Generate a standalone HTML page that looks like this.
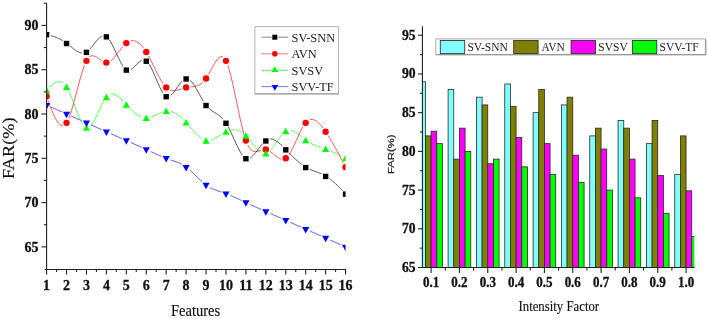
<!DOCTYPE html>
<html><head><meta charset="utf-8"><style>
html,body{margin:0;padding:0;background:#fff;}
body{width:708px;height:319px;overflow:hidden;position:relative;font-family:"Liberation Serif",serif;}
</style></head><body>
<svg width="708" height="319" viewBox="0 0 708 319" style="position:absolute;left:0;top:0;will-change:transform">
<defs>
<clipPath id="lclip"><rect x="46.60" y="0" width="298.95" height="270"/></clipPath>
<mask id="m_black" maskUnits="userSpaceOnUse" x="0" y="0" width="708" height="319"><rect x="0" y="0" width="708" height="319" fill="#fff"/>
<circle cx="46.60" cy="34.26" r="4.6" fill="#000"/>
<circle cx="66.53" cy="43.12" r="4.6" fill="#000"/>
<circle cx="86.46" cy="51.98" r="4.6" fill="#000"/>
<circle cx="106.39" cy="36.47" r="4.6" fill="#000"/>
<circle cx="126.32" cy="69.70" r="4.6" fill="#000"/>
<circle cx="146.25" cy="60.84" r="4.6" fill="#000"/>
<circle cx="166.18" cy="96.28" r="4.6" fill="#000"/>
<circle cx="186.11" cy="78.56" r="4.6" fill="#000"/>
<circle cx="206.04" cy="105.14" r="4.6" fill="#000"/>
<circle cx="225.97" cy="122.86" r="4.6" fill="#000"/>
<circle cx="245.90" cy="158.30" r="4.6" fill="#000"/>
<circle cx="265.83" cy="140.58" r="4.6" fill="#000"/>
<circle cx="285.76" cy="149.44" r="4.6" fill="#000"/>
<circle cx="305.69" cy="167.16" r="4.6" fill="#000"/>
<circle cx="325.62" cy="176.02" r="4.6" fill="#000"/>
<circle cx="345.55" cy="193.74" r="4.6" fill="#000"/>
</mask>
<mask id="m_red" maskUnits="userSpaceOnUse" x="0" y="0" width="708" height="319"><rect x="0" y="0" width="708" height="319" fill="#fff"/>
<circle cx="46.60" cy="96.28" r="4.8" fill="#000"/>
<circle cx="66.53" cy="122.86" r="4.8" fill="#000"/>
<circle cx="86.46" cy="60.84" r="4.8" fill="#000"/>
<circle cx="106.39" cy="62.61" r="4.8" fill="#000"/>
<circle cx="126.32" cy="43.12" r="4.8" fill="#000"/>
<circle cx="146.25" cy="51.98" r="4.8" fill="#000"/>
<circle cx="166.18" cy="87.42" r="4.8" fill="#000"/>
<circle cx="186.11" cy="87.42" r="4.8" fill="#000"/>
<circle cx="206.04" cy="78.56" r="4.8" fill="#000"/>
<circle cx="225.97" cy="60.84" r="4.8" fill="#000"/>
<circle cx="245.90" cy="140.58" r="4.8" fill="#000"/>
<circle cx="265.83" cy="149.44" r="4.8" fill="#000"/>
<circle cx="285.76" cy="158.30" r="4.8" fill="#000"/>
<circle cx="305.69" cy="122.86" r="4.8" fill="#000"/>
<circle cx="325.62" cy="131.72" r="4.8" fill="#000"/>
<circle cx="345.55" cy="167.16" r="4.8" fill="#000"/>
</mask>
<mask id="m_green" maskUnits="userSpaceOnUse" x="0" y="0" width="708" height="319"><rect x="0" y="0" width="708" height="319" fill="#fff"/>
<circle cx="46.60" cy="90.52" r="5.0" fill="#000"/>
<circle cx="66.53" cy="86.98" r="5.0" fill="#000"/>
<circle cx="86.46" cy="127.73" r="5.0" fill="#000"/>
<circle cx="106.39" cy="97.17" r="5.0" fill="#000"/>
<circle cx="126.32" cy="104.70" r="5.0" fill="#000"/>
<circle cx="146.25" cy="117.99" r="5.0" fill="#000"/>
<circle cx="166.18" cy="110.90" r="5.0" fill="#000"/>
<circle cx="186.11" cy="122.42" r="5.0" fill="#000"/>
<circle cx="206.04" cy="140.58" r="5.0" fill="#000"/>
<circle cx="225.97" cy="131.72" r="5.0" fill="#000"/>
<circle cx="245.90" cy="135.71" r="5.0" fill="#000"/>
<circle cx="265.83" cy="153.43" r="5.0" fill="#000"/>
<circle cx="285.76" cy="131.28" r="5.0" fill="#000"/>
<circle cx="305.69" cy="140.14" r="5.0" fill="#000"/>
<circle cx="325.62" cy="149.00" r="5.0" fill="#000"/>
<circle cx="345.55" cy="158.30" r="5.0" fill="#000"/>
</mask>
<mask id="m_blue" maskUnits="userSpaceOnUse" x="0" y="0" width="708" height="319"><rect x="0" y="0" width="708" height="319" fill="#fff"/>
<circle cx="46.60" cy="105.14" r="5.0" fill="#000"/>
<circle cx="66.53" cy="114.00" r="5.0" fill="#000"/>
<circle cx="86.46" cy="122.86" r="5.0" fill="#000"/>
<circle cx="106.39" cy="131.72" r="5.0" fill="#000"/>
<circle cx="126.32" cy="140.58" r="5.0" fill="#000"/>
<circle cx="146.25" cy="149.44" r="5.0" fill="#000"/>
<circle cx="166.18" cy="158.30" r="5.0" fill="#000"/>
<circle cx="186.11" cy="167.16" r="5.0" fill="#000"/>
<circle cx="206.04" cy="184.88" r="5.0" fill="#000"/>
<circle cx="225.97" cy="193.74" r="5.0" fill="#000"/>
<circle cx="245.90" cy="202.60" r="5.0" fill="#000"/>
<circle cx="265.83" cy="211.46" r="5.0" fill="#000"/>
<circle cx="285.76" cy="220.32" r="5.0" fill="#000"/>
<circle cx="305.69" cy="229.18" r="5.0" fill="#000"/>
<circle cx="325.62" cy="238.04" r="5.0" fill="#000"/>
<circle cx="345.55" cy="246.90" r="5.0" fill="#000"/>
</mask>
<clipPath id="rclip"><rect x="422.4" y="0" width="272.00" height="267"/></clipPath>
</defs>
<g clip-path="url(#lclip)">
<path d="M46.60,105.14 L48.26,105.88 L49.92,106.62 L51.58,107.35 L53.24,108.09 L54.90,108.83 L56.56,109.57 L58.23,110.31 L59.89,111.05 L61.55,111.78 L63.21,112.52 L64.87,113.26 L66.53,114.00 L68.19,114.74 L69.85,115.48 L71.51,116.22 L73.17,116.95 L74.83,117.69 L76.50,118.43 L78.16,119.17 L79.82,119.91 L81.48,120.65 L83.14,121.38 L84.80,122.12 L86.46,122.86 L88.12,123.60 L89.78,124.34 L91.44,125.07 L93.10,125.81 L94.76,126.55 L96.43,127.29 L98.09,128.02 L99.75,128.76 L101.41,129.50 L103.07,130.24 L104.73,130.98 L106.39,131.72 L108.05,132.46 L109.71,133.20 L111.37,133.94 L113.03,134.69 L114.69,135.43 L116.35,136.17 L118.02,136.91 L119.68,137.64 L121.34,138.38 L123.00,139.12 L124.66,139.85 L126.32,140.58 L127.98,141.31 L129.64,142.03 L131.30,142.76 L132.96,143.49 L134.62,144.22 L136.28,144.95 L137.95,145.68 L139.61,146.42 L141.27,147.16 L142.93,147.91 L144.59,148.67 L146.25,149.44 L147.91,150.22 L149.57,151.00 L151.23,151.78 L152.89,152.56 L154.55,153.34 L156.22,154.11 L157.88,154.86 L159.54,155.60 L161.20,156.32 L162.86,157.01 L164.52,157.67 L166.18,158.30 L167.84,158.90 L169.50,159.47 L171.16,160.04 L172.82,160.61 L174.48,161.21 L176.14,161.84 L177.81,162.52 L179.47,163.26 L181.13,164.08 L182.79,165.00 L184.45,166.02 L186.11,167.16 L187.77,168.43 L189.43,169.81 L191.09,171.29 L192.75,172.83 L194.41,174.41 L196.07,176.02 L197.74,177.63 L199.40,179.21 L201.06,180.75 L202.72,182.23 L204.38,183.61 L206.04,184.88 L207.70,186.02 L209.36,187.04 L211.02,187.96 L212.68,188.78 L214.34,189.52 L216.00,190.20 L217.67,190.83 L219.33,191.43 L220.99,192.00 L222.65,192.57 L224.31,193.14 L225.97,193.74 L227.63,194.37 L229.29,195.03 L230.95,195.72 L232.61,196.44 L234.27,197.18 L235.94,197.93 L237.60,198.70 L239.26,199.48 L240.92,200.26 L242.58,201.04 L244.24,201.82 L245.90,202.60 L247.56,203.37 L249.22,204.13 L250.88,204.88 L252.54,205.62 L254.20,206.36 L255.86,207.09 L257.53,207.82 L259.19,208.55 L260.85,209.28 L262.51,210.01 L264.17,210.73 L265.83,211.46 L267.49,212.19 L269.15,212.92 L270.81,213.66 L272.47,214.40 L274.13,215.13 L275.80,215.87 L277.46,216.61 L279.12,217.35 L280.78,218.10 L282.44,218.84 L284.10,219.58 L285.76,220.32 L287.42,221.06 L289.08,221.80 L290.74,222.54 L292.40,223.28 L294.06,224.02 L295.73,224.75 L297.39,225.49 L299.05,226.23 L300.71,226.97 L302.37,227.70 L304.03,228.44 L305.69,229.18 L307.35,229.92 L309.01,230.66 L310.67,231.39 L312.33,232.13 L313.99,232.87 L315.66,233.61 L317.32,234.35 L318.98,235.09 L320.64,235.82 L322.30,236.56 L323.96,237.30 L325.62,238.04 L327.28,238.78 L328.94,239.52 L330.60,240.26 L332.26,240.99 L333.92,241.73 L335.59,242.47 L337.25,243.21 L338.91,243.95 L340.57,244.69 L342.23,245.42 L343.89,246.16 L345.55,246.90" fill="none" stroke="#00f" stroke-width="0.65" mask="url(#m_blue)"/>
<path d="M46.60,90.52 L48.26,88.76 L49.92,87.07 L51.58,85.50 L53.24,84.11 L54.90,82.96 L56.56,82.13 L58.23,81.66 L59.89,81.62 L61.55,82.07 L63.21,83.07 L64.87,84.69 L66.53,86.98 L68.19,89.97 L69.85,93.54 L71.51,97.55 L73.17,101.83 L74.83,106.23 L76.50,110.61 L78.16,114.81 L79.82,118.67 L81.48,122.05 L83.14,124.79 L84.80,126.73 L86.46,127.73 L88.12,127.69 L89.78,126.69 L91.44,124.89 L93.10,122.45 L94.76,119.49 L96.43,116.18 L98.09,112.67 L99.75,109.09 L101.41,105.61 L103.07,102.36 L104.73,99.49 L106.39,97.17 L108.05,95.49 L109.71,94.43 L111.37,93.93 L113.03,93.93 L114.69,94.38 L116.35,95.20 L118.02,96.34 L119.68,97.74 L121.34,99.33 L123.00,101.07 L124.66,102.87 L126.32,104.70 L127.98,106.48 L129.64,108.20 L131.30,109.84 L132.96,111.38 L134.62,112.80 L136.28,114.09 L137.95,115.22 L139.61,116.19 L141.27,116.97 L142.93,117.54 L144.59,117.88 L146.25,117.99 L147.91,117.84 L149.57,117.48 L151.23,116.94 L152.89,116.26 L154.55,115.49 L156.22,114.67 L157.88,113.83 L159.54,113.02 L161.20,112.28 L162.86,111.66 L164.52,111.18 L166.18,110.90 L167.84,110.84 L169.50,111.01 L171.16,111.39 L172.82,111.97 L174.48,112.73 L176.14,113.68 L177.81,114.79 L179.47,116.05 L181.13,117.46 L182.79,118.99 L184.45,120.65 L186.11,122.42 L187.77,124.28 L189.43,126.19 L191.09,128.13 L192.75,130.06 L194.41,131.94 L196.07,133.73 L197.74,135.40 L199.40,136.90 L201.06,138.21 L202.72,139.28 L204.38,140.09 L206.04,140.58 L207.70,140.74 L209.36,140.60 L211.02,140.20 L212.68,139.58 L214.34,138.78 L216.00,137.85 L217.67,136.82 L219.33,135.74 L220.99,134.64 L222.65,133.58 L224.31,132.59 L225.97,131.72 L227.63,131.00 L229.29,130.44 L230.95,130.05 L232.61,129.84 L234.27,129.83 L235.94,130.01 L237.60,130.39 L239.26,131.00 L240.92,131.82 L242.58,132.87 L244.24,134.17 L245.90,135.71 L247.56,137.49 L249.22,139.46 L250.88,141.54 L252.54,143.65 L254.20,145.74 L255.86,147.72 L257.53,149.53 L259.19,151.09 L260.85,152.33 L262.51,153.19 L264.17,153.57 L265.83,153.43 L267.49,152.70 L269.15,151.46 L270.81,149.80 L272.47,147.82 L274.13,145.59 L275.80,143.23 L277.46,140.82 L279.12,138.45 L280.78,136.22 L282.44,134.22 L284.10,132.54 L285.76,131.28 L287.42,130.50 L289.08,130.18 L290.74,130.25 L292.40,130.68 L294.06,131.40 L295.73,132.36 L297.39,133.50 L299.05,134.78 L300.71,136.14 L302.37,137.52 L304.03,138.87 L305.69,140.14 L307.35,141.28 L309.01,142.30 L310.67,143.21 L312.33,144.03 L313.99,144.77 L315.66,145.45 L317.32,146.08 L318.98,146.67 L320.64,147.25 L322.30,147.82 L323.96,148.39 L325.62,149.00 L327.28,149.64 L328.94,150.31 L330.60,151.02 L332.26,151.75 L333.92,152.51 L335.59,153.30 L337.25,154.10 L338.91,154.92 L340.57,155.76 L342.23,156.60 L343.89,157.45 L345.55,158.30" fill="none" stroke="#0f0" stroke-width="0.65" mask="url(#m_green)"/>
<path d="M46.60,96.28 L48.26,100.88 L49.92,105.38 L51.58,109.68 L53.24,113.68 L54.90,117.28 L56.56,120.38 L58.23,122.88 L59.89,124.68 L61.55,125.67 L63.21,125.77 L64.87,124.87 L66.53,122.86 L68.19,119.70 L69.85,115.54 L71.51,110.56 L73.17,104.95 L74.83,98.92 L76.50,92.65 L78.16,86.33 L79.82,80.16 L81.48,74.34 L83.14,69.05 L84.80,64.48 L86.46,60.84 L88.12,58.25 L89.78,56.64 L91.44,55.85 L93.10,55.75 L94.76,56.19 L96.43,57.03 L98.09,58.14 L99.75,59.37 L101.41,60.57 L103.07,61.60 L104.73,62.33 L106.39,62.61 L108.05,62.34 L109.71,61.55 L111.37,60.33 L113.03,58.76 L114.69,56.92 L116.35,54.89 L118.02,52.74 L119.68,50.56 L121.34,48.43 L123.00,46.43 L124.66,44.63 L126.32,43.12 L127.98,41.96 L129.64,41.17 L131.30,40.73 L132.96,40.64 L134.62,40.90 L136.28,41.50 L137.95,42.43 L139.61,43.70 L141.27,45.29 L142.93,47.21 L144.59,49.44 L146.25,51.98 L147.91,54.82 L149.57,57.90 L151.23,61.15 L152.89,64.51 L154.55,67.92 L156.22,71.30 L157.88,74.59 L159.54,77.73 L161.20,80.65 L162.86,83.28 L164.52,85.56 L166.18,87.42 L167.84,88.82 L169.50,89.79 L171.16,90.38 L172.82,90.64 L174.48,90.64 L176.14,90.41 L177.81,90.02 L179.47,89.51 L181.13,88.95 L182.79,88.38 L184.45,87.85 L186.11,87.42 L187.77,87.13 L189.43,86.93 L191.09,86.77 L192.75,86.61 L194.41,86.39 L196.07,86.05 L197.74,85.54 L199.40,84.80 L201.06,83.79 L202.72,82.45 L204.38,80.72 L206.04,78.56 L207.70,75.94 L209.36,72.99 L211.02,69.88 L212.68,66.75 L214.34,63.78 L216.00,61.13 L217.67,58.95 L219.33,57.41 L220.99,56.67 L222.65,56.88 L224.31,58.22 L225.97,60.84 L227.63,64.84 L229.29,70.06 L230.95,76.28 L232.61,83.28 L234.27,90.83 L235.94,98.71 L237.60,106.71 L239.26,114.60 L240.92,122.15 L242.58,129.14 L244.24,135.36 L245.90,140.58 L247.56,144.64 L249.22,147.62 L250.88,149.66 L252.54,150.91 L254.20,151.51 L255.86,151.60 L257.53,151.32 L259.19,150.82 L260.85,150.24 L262.51,149.72 L264.17,149.41 L265.83,149.44 L267.49,149.92 L269.15,150.79 L270.81,151.95 L272.47,153.29 L274.13,154.70 L275.80,156.10 L277.46,157.37 L279.12,158.42 L280.78,159.14 L282.44,159.43 L284.10,159.18 L285.76,158.30 L287.42,156.72 L289.08,154.51 L290.74,151.79 L292.40,148.67 L294.06,145.26 L295.73,141.68 L297.39,138.04 L299.05,134.45 L300.71,131.03 L302.37,127.88 L304.03,125.12 L305.69,122.86 L307.35,121.19 L309.01,120.10 L310.67,119.54 L312.33,119.47 L313.99,119.85 L315.66,120.65 L317.32,121.81 L318.98,123.30 L320.64,125.08 L322.30,127.10 L323.96,129.33 L325.62,131.72 L327.28,134.24 L328.94,136.87 L330.60,139.61 L332.26,142.44 L333.92,145.35 L335.59,148.33 L337.25,151.38 L338.91,154.47 L340.57,157.61 L342.23,160.77 L343.89,163.96 L345.55,167.16" fill="none" stroke="#f00" stroke-width="0.65" mask="url(#m_red)"/>
<path d="M46.60,34.26 L48.26,34.75 L49.92,35.25 L51.58,35.77 L53.24,36.33 L54.90,36.92 L56.56,37.57 L58.23,38.28 L59.89,39.06 L61.55,39.92 L63.21,40.88 L64.87,41.94 L66.53,43.12 L68.19,44.41 L69.85,45.77 L71.51,47.16 L73.17,48.51 L74.83,49.78 L76.50,50.91 L78.16,51.86 L79.82,52.57 L81.48,52.99 L83.14,53.06 L84.80,52.75 L86.46,51.98 L88.12,50.74 L89.78,49.12 L91.44,47.23 L93.10,45.17 L94.76,43.07 L96.43,41.03 L98.09,39.17 L99.75,37.60 L101.41,36.43 L103.07,35.78 L104.73,35.76 L106.39,36.47 L108.05,38.00 L109.71,40.24 L111.37,43.04 L113.03,46.25 L114.69,49.75 L116.35,53.37 L118.02,56.97 L119.68,60.42 L121.34,63.56 L123.00,66.25 L124.66,68.34 L126.32,69.70 L127.98,70.22 L129.64,70.01 L131.30,69.22 L132.96,67.99 L134.62,66.49 L136.28,64.86 L137.95,63.25 L139.61,61.82 L141.27,60.71 L142.93,60.07 L144.59,60.07 L146.25,60.84 L147.91,62.49 L149.57,64.91 L151.23,67.94 L152.89,71.42 L154.55,75.20 L156.22,79.10 L157.88,82.97 L159.54,86.65 L161.20,89.98 L162.86,92.80 L164.52,94.96 L166.18,96.28 L167.84,96.67 L169.50,96.21 L171.16,95.07 L172.82,93.39 L174.48,91.32 L176.14,89.01 L177.81,86.61 L179.47,84.27 L181.13,82.15 L182.79,80.39 L184.45,79.14 L186.11,78.56 L187.77,78.75 L189.43,79.64 L191.09,81.15 L192.75,83.16 L194.41,85.57 L196.07,88.29 L197.74,91.20 L199.40,94.21 L201.06,97.21 L202.72,100.10 L204.38,102.78 L206.04,105.14 L207.70,107.12 L209.36,108.75 L211.02,110.12 L212.68,111.29 L214.34,112.35 L216.00,113.37 L217.67,114.42 L219.33,115.59 L220.99,116.94 L222.65,118.55 L224.31,120.50 L225.97,122.86 L227.63,125.68 L229.29,128.88 L230.95,132.35 L232.61,135.99 L234.27,139.69 L235.94,143.34 L237.60,146.84 L239.26,150.08 L240.92,152.95 L242.58,155.35 L244.24,157.17 L245.90,158.30 L247.56,158.67 L249.22,158.36 L250.88,157.46 L252.54,156.08 L254.20,154.33 L255.86,152.32 L257.53,150.15 L259.19,147.92 L260.85,145.74 L262.51,143.72 L264.17,141.97 L265.83,140.58 L267.49,139.64 L269.15,139.14 L270.81,139.03 L272.47,139.28 L274.13,139.85 L275.80,140.70 L277.46,141.78 L279.12,143.07 L280.78,144.52 L282.44,146.09 L284.10,147.74 L285.76,149.44 L287.42,151.15 L289.08,152.85 L290.74,154.53 L292.40,156.19 L294.06,157.81 L295.73,159.38 L297.39,160.89 L299.05,162.32 L300.71,163.68 L302.37,164.95 L304.03,166.11 L305.69,167.16 L307.35,168.09 L309.01,168.92 L310.67,169.66 L312.33,170.34 L313.99,170.98 L315.66,171.60 L317.32,172.22 L318.98,172.85 L320.64,173.53 L322.30,174.27 L323.96,175.10 L325.62,176.02 L327.28,177.06 L328.94,178.22 L330.60,179.48 L332.26,180.83 L333.92,182.26 L335.59,183.77 L337.25,185.34 L338.91,186.96 L340.57,188.62 L342.23,190.31 L343.89,192.02 L345.55,193.74" fill="none" stroke="#000" stroke-width="0.65" mask="url(#m_black)"/>
<rect x="43.90" y="31.96" width="5.4" height="5.4" fill="#000"/>
<rect x="63.83" y="40.82" width="5.4" height="5.4" fill="#000"/>
<rect x="83.76" y="49.68" width="5.4" height="5.4" fill="#000"/>
<rect x="103.69" y="34.17" width="5.4" height="5.4" fill="#000"/>
<rect x="123.62" y="67.40" width="5.4" height="5.4" fill="#000"/>
<rect x="143.55" y="58.54" width="5.4" height="5.4" fill="#000"/>
<rect x="163.48" y="93.98" width="5.4" height="5.4" fill="#000"/>
<rect x="183.41" y="76.26" width="5.4" height="5.4" fill="#000"/>
<rect x="203.34" y="102.84" width="5.4" height="5.4" fill="#000"/>
<rect x="223.27" y="120.56" width="5.4" height="5.4" fill="#000"/>
<rect x="243.20" y="156.00" width="5.4" height="5.4" fill="#000"/>
<rect x="263.13" y="138.28" width="5.4" height="5.4" fill="#000"/>
<rect x="283.06" y="147.14" width="5.4" height="5.4" fill="#000"/>
<rect x="302.99" y="164.86" width="5.4" height="5.4" fill="#000"/>
<rect x="322.92" y="173.72" width="5.4" height="5.4" fill="#000"/>
<rect x="342.85" y="191.44" width="5.4" height="5.4" fill="#000"/>
<circle cx="46.60" cy="96.28" r="3.2" fill="#f00"/>
<circle cx="66.53" cy="122.86" r="3.2" fill="#f00"/>
<circle cx="86.46" cy="60.84" r="3.2" fill="#f00"/>
<circle cx="106.39" cy="62.61" r="3.2" fill="#f00"/>
<circle cx="126.32" cy="43.12" r="3.2" fill="#f00"/>
<circle cx="146.25" cy="51.98" r="3.2" fill="#f00"/>
<circle cx="166.18" cy="87.42" r="3.2" fill="#f00"/>
<circle cx="186.11" cy="87.42" r="3.2" fill="#f00"/>
<circle cx="206.04" cy="78.56" r="3.2" fill="#f00"/>
<circle cx="225.97" cy="60.84" r="3.2" fill="#f00"/>
<circle cx="245.90" cy="140.58" r="3.2" fill="#f00"/>
<circle cx="265.83" cy="149.44" r="3.2" fill="#f00"/>
<circle cx="285.76" cy="158.30" r="3.2" fill="#f00"/>
<circle cx="305.69" cy="122.86" r="3.2" fill="#f00"/>
<circle cx="325.62" cy="131.72" r="3.2" fill="#f00"/>
<circle cx="345.55" cy="167.16" r="3.2" fill="#f00"/>
<path d="M46.60,87.07 L50.20,93.57 L43.00,93.57 Z" fill="#0f0"/>
<path d="M66.53,83.53 L70.13,90.03 L62.93,90.03 Z" fill="#0f0"/>
<path d="M86.46,124.28 L90.06,130.78 L82.86,130.78 Z" fill="#0f0"/>
<path d="M106.39,93.72 L109.99,100.22 L102.79,100.22 Z" fill="#0f0"/>
<path d="M126.32,101.25 L129.92,107.75 L122.72,107.75 Z" fill="#0f0"/>
<path d="M146.25,114.54 L149.85,121.04 L142.65,121.04 Z" fill="#0f0"/>
<path d="M166.18,107.45 L169.78,113.95 L162.58,113.95 Z" fill="#0f0"/>
<path d="M186.11,118.97 L189.71,125.47 L182.51,125.47 Z" fill="#0f0"/>
<path d="M206.04,137.13 L209.64,143.63 L202.44,143.63 Z" fill="#0f0"/>
<path d="M225.97,128.27 L229.57,134.77 L222.37,134.77 Z" fill="#0f0"/>
<path d="M245.90,132.26 L249.50,138.76 L242.30,138.76 Z" fill="#0f0"/>
<path d="M265.83,149.98 L269.43,156.48 L262.23,156.48 Z" fill="#0f0"/>
<path d="M285.76,127.83 L289.36,134.33 L282.16,134.33 Z" fill="#0f0"/>
<path d="M305.69,136.69 L309.29,143.19 L302.09,143.19 Z" fill="#0f0"/>
<path d="M325.62,145.55 L329.22,152.05 L322.02,152.05 Z" fill="#0f0"/>
<path d="M345.55,154.85 L349.15,161.35 L341.95,161.35 Z" fill="#0f0"/>
<path d="M43.00,102.89 L50.20,102.89 L46.60,109.39 Z" fill="#00f"/>
<path d="M62.93,111.75 L70.13,111.75 L66.53,118.25 Z" fill="#00f"/>
<path d="M82.86,120.61 L90.06,120.61 L86.46,127.11 Z" fill="#00f"/>
<path d="M102.79,129.47 L109.99,129.47 L106.39,135.97 Z" fill="#00f"/>
<path d="M122.72,138.33 L129.92,138.33 L126.32,144.83 Z" fill="#00f"/>
<path d="M142.65,147.19 L149.85,147.19 L146.25,153.69 Z" fill="#00f"/>
<path d="M162.58,156.05 L169.78,156.05 L166.18,162.55 Z" fill="#00f"/>
<path d="M182.51,164.91 L189.71,164.91 L186.11,171.41 Z" fill="#00f"/>
<path d="M202.44,182.63 L209.64,182.63 L206.04,189.13 Z" fill="#00f"/>
<path d="M222.37,191.49 L229.57,191.49 L225.97,197.99 Z" fill="#00f"/>
<path d="M242.30,200.35 L249.50,200.35 L245.90,206.85 Z" fill="#00f"/>
<path d="M262.23,209.21 L269.43,209.21 L265.83,215.71 Z" fill="#00f"/>
<path d="M282.16,218.07 L289.36,218.07 L285.76,224.57 Z" fill="#00f"/>
<path d="M302.09,226.93 L309.29,226.93 L305.69,233.43 Z" fill="#00f"/>
<path d="M322.02,235.79 L329.22,235.79 L325.62,242.29 Z" fill="#00f"/>
<path d="M341.95,244.65 L349.15,244.65 L345.55,251.15 Z" fill="#00f"/>
</g>
<g stroke="#222" stroke-width="1.1" fill="none">
<path d="M46.60,3.2 V270.00"/>
<path d="M44.6,269.50 H346.05"/>
<path d="M41.4,25.40 H46.60"/>
<path d="M41.4,69.70 H46.60"/>
<path d="M41.4,114.00 H46.60"/>
<path d="M41.4,158.30 H46.60"/>
<path d="M41.4,202.60 H46.60"/>
<path d="M41.4,246.90 H46.60"/>
<path d="M43.8,3.25 H46.60"/>
<path d="M43.8,47.55 H46.60"/>
<path d="M43.8,91.85 H46.60"/>
<path d="M43.8,136.15 H46.60"/>
<path d="M43.8,180.45 H46.60"/>
<path d="M43.8,224.75 H46.60"/>
<path d="M46.60,269.50 V274.6"/>
<path d="M66.53,269.50 V274.6"/>
<path d="M86.46,269.50 V274.6"/>
<path d="M106.39,269.50 V274.6"/>
<path d="M126.32,269.50 V274.6"/>
<path d="M146.25,269.50 V274.6"/>
<path d="M166.18,269.50 V274.6"/>
<path d="M186.11,269.50 V274.6"/>
<path d="M206.04,269.50 V274.6"/>
<path d="M225.97,269.50 V274.6"/>
<path d="M245.90,269.50 V274.6"/>
<path d="M265.83,269.50 V274.6"/>
<path d="M285.76,269.50 V274.6"/>
<path d="M305.69,269.50 V274.6"/>
<path d="M325.62,269.50 V274.6"/>
<path d="M345.55,269.50 V274.6"/>
<path d="M56.56,269.50 V272"/>
<path d="M76.50,269.50 V272"/>
<path d="M96.43,269.50 V272"/>
<path d="M116.36,269.50 V272"/>
<path d="M136.28,269.50 V272"/>
<path d="M156.22,269.50 V272"/>
<path d="M176.15,269.50 V272"/>
<path d="M196.07,269.50 V272"/>
<path d="M216.00,269.50 V272"/>
<path d="M235.94,269.50 V272"/>
<path d="M255.87,269.50 V272"/>
<path d="M275.79,269.50 V272"/>
<path d="M295.72,269.50 V272"/>
<path d="M315.65,269.50 V272"/>
<path d="M335.58,269.50 V272"/>
</g>
<g font-family="Liberation Serif" font-weight="bold" font-size="14" fill="#111" stroke="#111" stroke-width="0.3">
<text transform="translate(38.6,30.00) scale(1,1.10)" text-anchor="end">90</text>
<text transform="translate(38.6,74.30) scale(1,1.10)" text-anchor="end">85</text>
<text transform="translate(38.6,118.60) scale(1,1.10)" text-anchor="end">80</text>
<text transform="translate(38.6,162.90) scale(1,1.10)" text-anchor="end">75</text>
<text transform="translate(38.6,207.20) scale(1,1.10)" text-anchor="end">70</text>
<text transform="translate(38.6,251.50) scale(1,1.10)" text-anchor="end">65</text>
<text transform="translate(46.60,289.6) scale(1,1.10)" text-anchor="middle">1</text>
<text transform="translate(66.53,289.6) scale(1,1.10)" text-anchor="middle">2</text>
<text transform="translate(86.46,289.6) scale(1,1.10)" text-anchor="middle">3</text>
<text transform="translate(106.39,289.6) scale(1,1.10)" text-anchor="middle">4</text>
<text transform="translate(126.32,289.6) scale(1,1.10)" text-anchor="middle">5</text>
<text transform="translate(146.25,289.6) scale(1,1.10)" text-anchor="middle">6</text>
<text transform="translate(166.18,289.6) scale(1,1.10)" text-anchor="middle">7</text>
<text transform="translate(186.11,289.6) scale(1,1.10)" text-anchor="middle">8</text>
<text transform="translate(206.04,289.6) scale(1,1.10)" text-anchor="middle">9</text>
<text transform="translate(225.97,289.6) scale(1,1.10)" text-anchor="middle">10</text>
<text transform="translate(245.90,289.6) scale(1,1.10)" text-anchor="middle">11</text>
<text transform="translate(265.83,289.6) scale(1,1.10)" text-anchor="middle">12</text>
<text transform="translate(285.76,289.6) scale(1,1.10)" text-anchor="middle">13</text>
<text transform="translate(305.69,289.6) scale(1,1.10)" text-anchor="middle">14</text>
<text transform="translate(325.62,289.6) scale(1,1.10)" text-anchor="middle">15</text>
<text transform="translate(345.55,289.6) scale(1,1.10)" text-anchor="middle">16</text>
</g>
<text transform="translate(171,316.2) scale(1,1.1)" font-family="Liberation Serif" font-size="14.5" fill="#111" stroke="#111" stroke-width="0.15">Features</text>
<text transform="translate(13.7,179.0) rotate(-90) scale(1.13,1)" font-family="Liberation Serif" font-size="16.2" fill="#111" stroke="#111" stroke-width="0.15">FAR(%)</text>
<rect x="254.9" y="26.7" width="83.6" height="67" fill="#fff" stroke="#aaa" stroke-width="0.9"/>
<path d="M255.2,94.0 H338.6" fill="none" stroke="#999" stroke-width="1"/>
<path d="M261.4,37.20 H271.6 M278.0,37.20 H288.2" stroke="#777" stroke-width="0.9"/>
<rect x="272.30" y="34.70" width="5" height="5" fill="#000"/>
<text transform="translate(291.5,41.50) scale(1,1.07)" font-family="Liberation Serif" font-size="12.4" fill="#222">SV-SNN</text>
<path d="M261.4,53.80 H271.6 M278.0,53.80 H288.2" stroke="#f66" stroke-width="0.9"/>
<circle cx="274.80" cy="53.80" r="2.8" fill="#f00"/>
<text transform="translate(291.5,58.10) scale(1,1.07)" font-family="Liberation Serif" font-size="12.4" fill="#222">AVN</text>
<path d="M261.4,70.30 H271.6 M278.0,70.30 H288.2" stroke="#4e4" stroke-width="0.9"/>
<path d="M274.80,66.30 L278.40,72.10 L271.20,72.10 Z" fill="#0f0"/>
<text transform="translate(291.5,74.60) scale(1,1.07)" font-family="Liberation Serif" font-size="12.4" fill="#222">SVSV</text>
<path d="M261.4,86.60 H271.6 M278.0,86.60 H288.2" stroke="#66f" stroke-width="0.9"/>
<path d="M271.40,85.00 L278.20,85.00 L274.80,90.80 Z" fill="#00f"/>
<text transform="translate(291.5,90.90) scale(1,1.07)" font-family="Liberation Serif" font-size="12.4" fill="#222">SVV-TF</text>
<g clip-path="url(#rclip)" stroke="#2a2a2a" stroke-width="0.8">
<rect x="419.77" y="81.69" width="5.67" height="186.81" fill="#80ffff"/>
<rect x="425.43" y="135.89" width="5.67" height="132.61" fill="#808000"/>
<rect x="431.10" y="131.24" width="5.67" height="137.26" fill="#ff00ff"/>
<rect x="436.77" y="143.63" width="5.67" height="124.87" fill="#00ff00"/>
<rect x="448.10" y="89.43" width="5.67" height="179.07" fill="#80ffff"/>
<rect x="453.76" y="159.11" width="5.67" height="109.39" fill="#808000"/>
<rect x="459.43" y="128.14" width="5.67" height="140.36" fill="#ff00ff"/>
<rect x="465.10" y="151.37" width="5.67" height="117.13" fill="#00ff00"/>
<rect x="476.43" y="97.18" width="5.67" height="171.32" fill="#80ffff"/>
<rect x="482.09" y="104.92" width="5.67" height="163.58" fill="#808000"/>
<rect x="487.76" y="163.76" width="5.67" height="104.74" fill="#ff00ff"/>
<rect x="493.43" y="159.11" width="5.67" height="109.39" fill="#00ff00"/>
<rect x="504.76" y="84.01" width="5.67" height="184.49" fill="#80ffff"/>
<rect x="510.42" y="106.47" width="5.67" height="162.03" fill="#808000"/>
<rect x="516.09" y="137.43" width="5.67" height="131.07" fill="#ff00ff"/>
<rect x="521.76" y="166.85" width="5.67" height="101.65" fill="#00ff00"/>
<rect x="533.09" y="112.66" width="5.67" height="155.84" fill="#80ffff"/>
<rect x="538.75" y="89.43" width="5.67" height="179.07" fill="#808000"/>
<rect x="544.42" y="143.63" width="5.67" height="124.87" fill="#ff00ff"/>
<rect x="550.09" y="174.60" width="5.67" height="93.90" fill="#00ff00"/>
<rect x="561.42" y="104.92" width="5.67" height="163.58" fill="#80ffff"/>
<rect x="567.08" y="97.18" width="5.67" height="171.32" fill="#808000"/>
<rect x="572.75" y="155.24" width="5.67" height="113.26" fill="#ff00ff"/>
<rect x="578.42" y="182.34" width="5.67" height="86.16" fill="#00ff00"/>
<rect x="589.75" y="135.89" width="5.67" height="132.61" fill="#80ffff"/>
<rect x="595.41" y="128.14" width="5.67" height="140.36" fill="#808000"/>
<rect x="601.08" y="149.05" width="5.67" height="119.45" fill="#ff00ff"/>
<rect x="606.75" y="190.08" width="5.67" height="78.42" fill="#00ff00"/>
<rect x="618.08" y="120.40" width="5.67" height="148.10" fill="#80ffff"/>
<rect x="623.74" y="128.14" width="5.67" height="140.36" fill="#808000"/>
<rect x="629.41" y="159.11" width="5.67" height="109.39" fill="#ff00ff"/>
<rect x="635.08" y="197.82" width="5.67" height="70.68" fill="#00ff00"/>
<rect x="646.41" y="143.63" width="5.67" height="124.87" fill="#80ffff"/>
<rect x="652.07" y="120.40" width="5.67" height="148.10" fill="#808000"/>
<rect x="657.74" y="175.37" width="5.67" height="93.13" fill="#ff00ff"/>
<rect x="663.41" y="213.31" width="5.67" height="55.19" fill="#00ff00"/>
<rect x="674.74" y="174.60" width="5.67" height="93.90" fill="#80ffff"/>
<rect x="680.40" y="135.89" width="5.67" height="132.61" fill="#808000"/>
<rect x="686.07" y="190.85" width="5.67" height="77.65" fill="#ff00ff"/>
<rect x="691.74" y="236.53" width="5.67" height="31.97" fill="#00ff00"/>
</g>
<g stroke="#222" stroke-width="1.1" fill="none">
<path d="M422.40,26.3 V268.00"/>
<path d="M421.90,267.50 H694.6"/>
<path d="M418.0,35.24 H422.40"/>
<path d="M418.0,73.95 H422.40"/>
<path d="M418.0,112.66 H422.40"/>
<path d="M418.0,151.37 H422.40"/>
<path d="M418.0,190.08 H422.40"/>
<path d="M418.0,228.79 H422.40"/>
<path d="M418.0,267.50 H422.40"/>
<path d="M420.0,54.59 H422.40"/>
<path d="M420.0,93.31 H422.40"/>
<path d="M420.0,132.01 H422.40"/>
<path d="M420.0,170.72 H422.40"/>
<path d="M420.0,209.44 H422.40"/>
<path d="M420.0,248.15 H422.40"/>
<path d="M431.10,267.50 V272.9"/>
<path d="M459.43,267.50 V272.9"/>
<path d="M487.76,267.50 V272.9"/>
<path d="M516.09,267.50 V272.9"/>
<path d="M544.42,267.50 V272.9"/>
<path d="M572.75,267.50 V272.9"/>
<path d="M601.08,267.50 V272.9"/>
<path d="M629.41,267.50 V272.9"/>
<path d="M657.74,267.50 V272.9"/>
<path d="M686.07,267.50 V272.9"/>
<path d="M445.27,267.50 V270.4"/>
<path d="M473.60,267.50 V270.4"/>
<path d="M501.93,267.50 V270.4"/>
<path d="M530.25,267.50 V270.4"/>
<path d="M558.59,267.50 V270.4"/>
<path d="M586.91,267.50 V270.4"/>
<path d="M615.25,267.50 V270.4"/>
<path d="M643.58,267.50 V270.4"/>
<path d="M671.90,267.50 V270.4"/>
</g>
<g font-family="Liberation Serif" font-weight="bold" font-size="13.6" fill="#111" stroke="#111" stroke-width="0.3">
<text transform="translate(415.6,39.74) scale(1,1.07)" text-anchor="end">95</text>
<text transform="translate(415.6,78.45) scale(1,1.07)" text-anchor="end">90</text>
<text transform="translate(415.6,117.16) scale(1,1.07)" text-anchor="end">85</text>
<text transform="translate(415.6,155.87) scale(1,1.07)" text-anchor="end">80</text>
<text transform="translate(415.6,194.58) scale(1,1.07)" text-anchor="end">75</text>
<text transform="translate(415.6,233.29) scale(1,1.07)" text-anchor="end">70</text>
<text transform="translate(415.6,272.00) scale(1,1.07)" text-anchor="end">65</text>
<text transform="translate(431.10,287.2) scale(1,1.08)" text-anchor="middle" font-size="13.0">0.1</text>
<text transform="translate(459.43,287.2) scale(1,1.08)" text-anchor="middle" font-size="13.0">0.2</text>
<text transform="translate(487.76,287.2) scale(1,1.08)" text-anchor="middle" font-size="13.0">0.3</text>
<text transform="translate(516.09,287.2) scale(1,1.08)" text-anchor="middle" font-size="13.0">0.4</text>
<text transform="translate(544.42,287.2) scale(1,1.08)" text-anchor="middle" font-size="13.0">0.5</text>
<text transform="translate(572.75,287.2) scale(1,1.08)" text-anchor="middle" font-size="13.0">0.6</text>
<text transform="translate(601.08,287.2) scale(1,1.08)" text-anchor="middle" font-size="13.0">0.7</text>
<text transform="translate(629.41,287.2) scale(1,1.08)" text-anchor="middle" font-size="13.0">0.8</text>
<text transform="translate(657.74,287.2) scale(1,1.08)" text-anchor="middle" font-size="13.0">0.9</text>
<text transform="translate(686.07,287.2) scale(1,1.08)" text-anchor="middle" font-size="13.0">1.0</text>
</g>
<text transform="translate(518.5,311.4) scale(1,1.1)" font-family="Liberation Serif" font-size="12.8" fill="#111" stroke="#111" stroke-width="0.12">Intensity Factor</text>
<text transform="translate(394.4,174.0) rotate(-90) scale(1.14,1)" font-family="Liberation Sans" font-size="9.9" fill="#222" stroke="#222" stroke-width="0.2">FAR(%)</text>
<rect x="435.8" y="38.9" width="269.6" height="15.6" fill="#fff" stroke="#aaa" stroke-width="1"/><path d="M436.3,54.9 H705.9 V39.4" fill="none" stroke="#888" stroke-width="0.8"/>
<rect x="440.30" y="40.5" width="24.4" height="13.1" fill="#80ffff" stroke="#333" stroke-width="0.9"/>
<text transform="translate(467.40,51.0) scale(1,1.05)" font-family="Liberation Serif" font-size="11.5" fill="#222">SV-SNN</text>
<rect x="513.70" y="40.5" width="24.4" height="13.1" fill="#808000" stroke="#333" stroke-width="0.9"/>
<text transform="translate(541.40,51.0) scale(1,1.05)" font-family="Liberation Serif" font-size="11.5" fill="#222">AVN</text>
<rect x="571.10" y="40.5" width="24.4" height="13.1" fill="#ff00ff" stroke="#333" stroke-width="0.9"/>
<text transform="translate(598.30,51.0) scale(1,1.05)" font-family="Liberation Serif" font-size="11.5" fill="#222">SVSV</text>
<rect x="632.40" y="40.5" width="24.4" height="13.1" fill="#00ff00" stroke="#333" stroke-width="0.9"/>
<text transform="translate(659.50,51.0) scale(1,1.05)" font-family="Liberation Serif" font-size="11.5" fill="#222">SVV-TF</text>
</svg>
</body></html>
